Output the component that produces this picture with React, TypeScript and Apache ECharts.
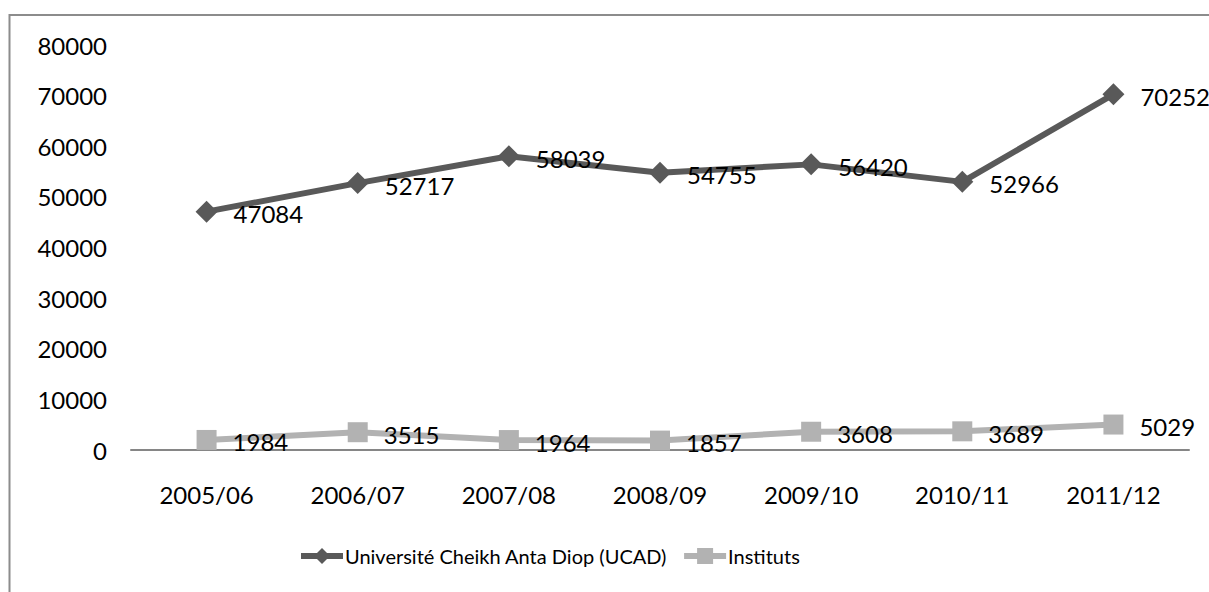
import React, { useEffect, useRef } from "react";
import * as echarts from "echarts";

const categories = ["2005/06", "2006/07", "2007/08", "2008/09", "2009/10", "2010/11", "2011/12"];
const ucad = [47084, 52717, 58039, 54755, 56420, 52966, 70252];
const instituts = [1984, 3515, 1964, 1857, 3608, 3689, 5029];
const yMin = 0;
const yMax = 80000;
const yInterval = 10000;

const FONT = "Lato";

export default function App() {
  const ref = useRef<HTMLDivElement>(null);
  useEffect(() => {
    if (!ref.current) return;
    const chart = echarts.init(ref.current, undefined, { renderer: "svg" });
    const labelStyle = {
      show: true,
      position: "right" as const,
      distance: 16,
      color: "#000",
      fontFamily: FONT,
      fontSize: 24,
      offset: [0, 2],
    };
    chart.setOption({
      animation: false,
      backgroundColor: "#fff",
      textStyle: { fontFamily: FONT, color: "#000" },
      graphic: [
        {
          type: "rect",
          shape: { x: 9.5, y: 15, width: 1400, height: 800 },
          style: { fill: "none", stroke: "#8c8c8c", lineWidth: 2 },
          silent: true,
        },
      ],
      grid: { left: 131, right: 20, top: 45, bottom: 142, containLabel: false },
      legend: {
        left: 293,
        top: 541,
        itemWidth: 42,
        itemHeight: 20,
        itemGap: 14,
        lineStyle: { width: 6 },
        textStyle: { fontFamily: FONT, fontSize: 20, color: "#000", padding: [0, 0, 0, -3] },
        data: ["Université Cheikh Anta Diop (UCAD)", "Instituts"],
      },
      xAxis: {
        type: "category",
        data: categories,
        boundaryGap: true,
        axisLine: { lineStyle: { color: "#868686", width: 2 } },
        axisTick: { show: false },
        axisLabel: { color: "#000", fontFamily: FONT, fontSize: 24, margin: 32 },
        splitLine: { show: false },
      },
      yAxis: {
        type: "value",
        min: yMin,
        max: yMax,
        interval: yInterval,
        axisLine: { show: false },
        axisTick: { show: false },
        splitLine: { show: false },
        axisLabel: {
          color: "#000",
          fontFamily: FONT,
          fontSize: 24,
          margin: 24,
          formatter: (v: number) => String(v),
        },
      },
      series: [
        {
          name: "Université Cheikh Anta Diop (UCAD)",
          type: "line",
          data: ucad,
          symbol: "diamond",
          symbolSize: 22,
          itemStyle: { color: "#595959" },
          lineStyle: { color: "#595959", width: 6 },
          label: labelStyle,
        },
        {
          name: "Instituts",
          type: "line",
          data: instituts,
          symbol: "rect",
          symbolSize: 20,
          itemStyle: { color: "#b2b2b2" },
          lineStyle: { color: "#b2b2b2", width: 6 },
          label: labelStyle,
        },
      ],
    });
    return () => chart.dispose();
  }, []);
  return (
    <div
      ref={ref}
      style={{ position: "fixed", left: 0, top: 0, width: 1209, height: 592 }}
    />
  );
}
